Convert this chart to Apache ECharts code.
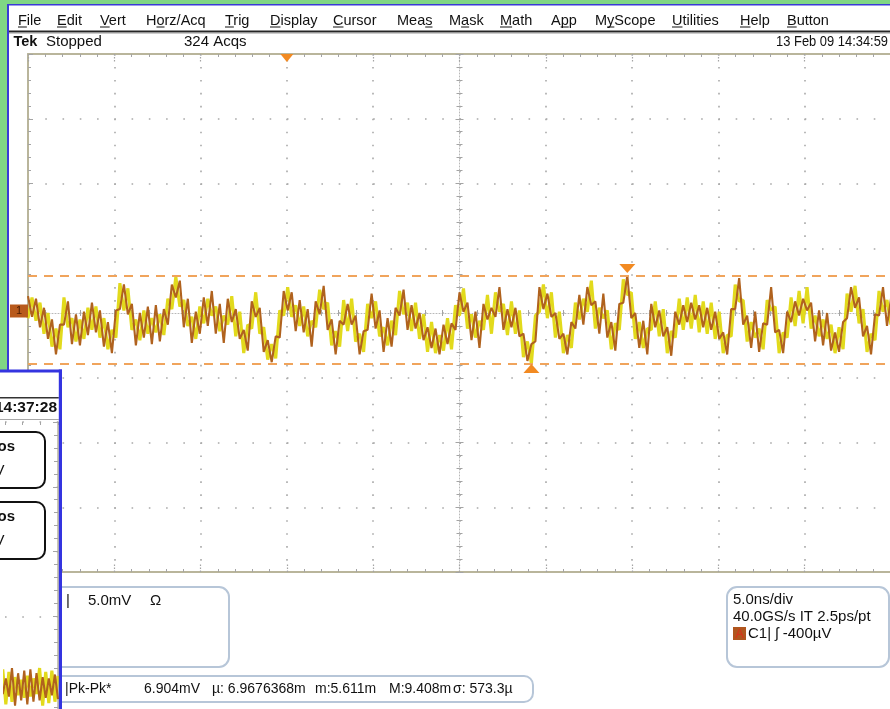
<!DOCTYPE html>
<html><head><meta charset="utf-8">
<script src="https://cdn.jsdelivr.net/npm/echarts@6/dist/echarts.min.js"></script>
<style>html,body{margin:0;padding:0;background:#fff;overflow:hidden}#c{width:890px;height:709px}</style>
</head><body><div id="c"></div><script>
// ---------- DATA (mV, 5 mV/div, 5 ns/div) ----------
const timeStart = -25, timeEnd = 25;        // ns, 10 divisions
const voltMin = -20, voltMax = 20;          // mV, 8 divisions
// upper / lower edge of the noisy trace band at each displayed sample
const bandHigh = [
1.3,1.2,1.1,0.8,0.4,0.0,-0.5,-1.2,-0.9,1.2,
0.9,-0.4,-0.1,-0.5,0.1,0.4,0.8,0.5,0.2,-0.4,
-0.7,-1.3,0.2,2.3,2.2,1.9,0.7,-0.5,0.0,0.2,
0.5,-0.4,0.6,-0.1,0.3,1.1,2.2,2.8,2.5,1.0,
1.1,-0.3,0.1,0.5,1.2,1.1,1.7,0.5,0.7,-0.2,
1.1,1.3,0.3,0.1,-1.3,-0.9,0.9,1.6,0.4,-1.1,
-2.1,-2.4,-1.8,0.2,1.7,2.0,1.6,0.6,1.0,0.5,
0.3,-0.6,0.9,1.8,2.1,0.8,-0.5,-1.4,-0.6,1.0,
0.7,1.1,-0.2,-1.6,-1.4,0.7,1.5,0.9,0.2,-1.1,
-0.4,-0.6,0.4,1.7,1.8,0.8,0.6,0.8,0.0,-0.1,
-1.1,-0.7,-1.2,-1.7,-0.9,-0.4,-0.8,0.6,1.6,1.9,
0.8,-0.1,0.1,-0.6,0.7,1.4,0.4,1.6,2.0,0.7,
0.3,0.9,0.4,0.2,-1.6,-2.2,-2.4,-0.2,2.0,2.2,
1.5,1.6,0.0,0.1,-1.6,-1.7,-0.7,0.8,1.4,1.1,
2.0,2.5,0.9,0.4,1.5,0.2,-0.7,-0.8,0.7,2.6,
2.9,1.6,0.0,-0.7,-0.6,-1.2,0.7,0.9,0.2,0.3,
-1.1,-1.4,0.1,1.1,0.6,1.2,0.8,1.4,0.6,0.9,
0.4,0.8,0.1,0.1,-1.5,-1.7,0.3,2.2,2.7,1.0,
-0.2,-0.7,0.1,-1.2,-0.8,1.0,2.0,0.5,-1.3,-1.5,
0.1,1.2,0.9,1.7,1.1,2.0,0.8,-0.2,0.2,-0.5,
0.0,-0.9,-1.5,-1.1,-0.7,1.5,2.0,2.1,1.2,0.3,
-1.0,-1.6,-0.1,1.7,2.0,1.0,1.1];
const bandLow = [
-0.4,-0.3,-0.6,-1.1,-1.6,-2.0,-2.6,-3.2,-2.8,-0.9,
-1.1,-2.4,-2.2,-2.5,-2.0,-1.7,-1.3,-1.5,-1.9,-2.6,
-2.8,-3.1,-1.9,0.3,0.2,-0.1,-1.3,-2.5,-2.1,-1.9,
-1.6,-2.4,-1.5,-2.2,-1.7,-0.9,0.3,1.2,0.5,-1.1,
-1.0,-2.3,-2.0,-1.6,-0.8,-1.0,-0.2,-1.6,-1.4,-2.3,
-0.9,-0.7,-1.8,-2.0,-3.1,-2.9,-1.2,-0.3,-1.6,-3.0,
-3.6,-3.8,-3.5,-1.9,-0.2,0.2,-0.3,-1.4,-1.0,-1.5,
-1.8,-2.6,-1.1,-0.1,0.3,-1.3,-2.5,-3.2,-2.6,-0.9,
-1.4,-0.9,-2.2,-3.2,-3.0,-1.3,-0.4,-1.2,-1.8,-3.0,
-2.5,-2.6,-1.7,-0.2,-0.1,-1.3,-1.4,-1.2,-2.0,-2.1,
-3.0,-2.7,-3.1,-3.2,-2.9,-2.4,-2.8,-1.3,-0.2,0.1,
-1.2,-2.1,-1.9,-2.7,-1.3,-0.5,-1.6,-0.3,0.1,-1.3,
-1.7,-1.1,-1.6,-1.8,-3.4,-3.7,-3.9,-2.2,0.1,0.3,
-0.4,-0.3,-1.9,-2.0,-3.1,-3.2,-2.7,-1.2,-0.5,-0.9,
0.1,0.6,-1.2,-1.6,-0.4,-1.9,-2.8,-2.9,-1.3,0.8,
1.4,-0.4,-2.0,-2.7,-2.7,-3.2,-1.3,-1.1,-1.8,-1.8,
-3.1,-3.3,-1.9,-0.9,-1.3,-0.7,-1.2,-0.5,-1.5,-1.1,
-1.6,-1.3,-2.0,-2.0,-3.1,-3.2,-1.8,0.3,0.9,-0.9,
-2.2,-2.7,-1.9,-3.0,-2.8,-0.9,0.2,-1.5,-3.1,-3.1,
-1.9,-0.7,-1.0,-0.2,-0.8,0.2,-1.2,-2.2,-1.8,-2.5,
-2.0,-2.9,-3.1,-3.0,-2.8,-0.4,0.1,0.4,-0.8,-1.8,
-3.0,-3.2,-2.1,-0.2,0.1,-1.0,-0.9];
const triggerTime = -10;  // ns (trigger position marker)
// second (background) window, tail of its trace
const overlayStart = 21.7, overlayEnd = 25;
const overlayHigh = [0.5,0.9,0.2,0.7,1.0,0.3,0.6,0.1,0.8,0.4,0.9,0.2,0.6,1.0,0.3,0.7,0.2,0.8,0.5,0.4];
const overlayLow  = [-1.4,-1.0,-1.8,-1.2,-1.6,-1.9,-1.1,-1.5,-1.3,-1.8,-1.2,-1.6,-1.0,-1.5,-1.9,-1.3,-1.7,-1.1,-1.6,-1.4];
// texts
const menuLabels = ['File','Edit','Vert','Horz/Acq','Trig','Display','Cursor','Meas','Mask','Math','App','MyScope','Utilities','Help','Button'];
const menuKeys   = [0,0,0,1,0,0,0,3,1,0,1,1,0,0,0];
const menuX      = [18,57,100,146,225,270,333,397,449,500,551,595,672,740,787];
const statusTexts = ['Stopped','324 Acqs'];
const dateText = '13 Feb 09 14:34:59';
const channelTexts = ['|','5.0mV','\u03A9'];
const measTexts = ['|Pk-Pk*','6.904mV','\u00B5: 6.9676368m','m:5.611m','M:9.408m','\u03C3: 573.3\u00B5'];
const horizTexts = ['5.0ns/div','40.0GS/s IT 2.5ps/pt','C1| \u0283 -400\u00B5V'];
const overlayTime = '09 14:37:28';

// ---------- build ----------
const sampleTimes = bandHigh.map((_, i) => timeStart + i * (timeEnd - timeStart) / (bandHigh.length - 1));
const overlayTimes = overlayHigh.map((_, i) => overlayStart + i * (overlayEnd - overlayStart) / (overlayHigh.length - 1));
const pair = (ts, vs) => vs.map((v, i) => [ts[i], v]);
// a trace that swings between the band edges from sample to sample (phase 0 or 1)
const swing = (ts, hi, lo, phase) => ts.map((t, i) => [t, (i + phase) % 2 === 0 ? hi[i] : lo[i]]);

const FONT = '"Liberation Sans", Arial, Helvetica, sans-serif';
const G = [];
function rect(x, y, w, h, fill, z, r) {
  G.push({type:'rect', silent:true, z: z, shape:{x:x, y:y, width:w, height:h, r:r||0}, style:{fill:fill}});
}
function rbox(x, y, w, h, r, stroke, lw, z, fill) {
  G.push({type:'rect', silent:true, z: z, shape:{x:x, y:y, width:w, height:h, r:r}, style:{fill:fill||'none', stroke:stroke, lineWidth:lw}});
}
function text(x, y, str, size, o) {
  o = o || {};
  const el = {type:'text', silent:true, z: o.z || 60, x:x, y:y,
    style:{text:str, fontSize:size, fontFamily:FONT, fontWeight:o.bold?'bold':'normal', fill:o.color||'#111',
      textAlign:o.align||'left', align:o.align||'left', textVerticalAlign:'middle', verticalAlign:'middle'}};
  if (o.scaleX) el.scaleX = o.scaleX;
  G.push(el);
}

// desktop + window frame
rect(0, 0, 890, 4, '#80d684', 40);
rect(0, 0, 7, 372, '#80d684', 40);
rect(7, 4, 883, 1.6, '#3a3ad6', 41);
rect(7, 4, 2, 368, '#3a3ad6', 41);
// menu
const mc = document.createElement('canvas').getContext('2d');
mc.font = '14.5px ' + FONT;
menuLabels.forEach((lab, i) => {
  text(menuX[i], 20.5, lab, 14.5);
  const k = menuKeys[i];
  const x0 = menuX[i] + mc.measureText(lab.slice(0, k)).width;
  const w = mc.measureText(lab[k]).width;
  rect(x0, 26.5, w, 1, '#111', 60);
});
rect(9, 30.5, 881, 2, '#262626', 45);
rect(9, 32.5, 881, 1, '#9a9a9a', 45);
// status line
text(13.5, 42, 'Tek', 14.5, {bold:true});
text(46, 42, statusTexts[0], 15);
text(184, 42, statusTexts[1], 15);
text(888, 42, dateText, 15, {align:'right', scaleX:0.86});
// channel level marker
rect(10, 304.5, 18, 13, '#b85a1c', 45);
text(19, 311, '1', 11, {align:'center', color:'#4a1c04'});
// bottom readouts
rbox(40, 587, 189, 80, 10, '#b7c6d8', 2, 50, '#fff');
rbox(40, 676, 493, 26, 9, '#b7c6d8', 2, 50, '#fff');
rbox(727, 587, 162, 80, 10, '#b7c6d8', 2, 50, '#fff');
text(66, 601, channelTexts[0], 15);
text(88, 601, channelTexts[1], 15);
text(150, 601, channelTexts[2], 15);
const measX = [65, 144, 212, 315, 389, 453];
measTexts.forEach((t, i) => text(measX[i], 689, t, 14));
text(733, 600, horizTexts[0], 15);
text(733, 617, horizTexts[1], 15);
rect(733, 627, 13, 13, '#b0561e', 55);
text(739.5, 634, 'A', 13, {align:'center', color:'#d8321a'});
text(748, 634, horizTexts[2], 15);
// overlapping second window (lower left)
rect(0, 371, 60, 338, '#ffffff', 100);
rect(0, 369.5, 62, 3, '#3434e0', 140);
rect(58.8, 369.5, 3.2, 340, '#3434e0', 140);
rect(0, 397, 58.8, 1.6, '#333', 105);
text(57, 408, overlayTime, 15.5, {bold:true, align:'right', z:130});
rect(0, 419, 58.8, 1, '#a8a8a8', 105);
rbox(-20, 432, 65, 56, 9, '#111', 2, 115, '#fff');
rbox(-20, 502, 65, 57, 9, '#111', 2, 115, '#fff');
text(15, 447, 'Pos', 15, {bold:true, align:'right', z:130});
text(4.5, 471, '5.0mV', 15, {align:'right', z:130});
text(15, 517, 'Pos', 15, {bold:true, align:'right', z:130});
text(4.5, 541, '5.0mV', 15, {align:'right', z:130});

// ---------- axes ----------
const olive = '#b9b59b', tickCol = '#a4a4a4', dotCol = '#a9a9a9';
const hide = {show:false};
function xAx(o) {
  return Object.assign({type:'value', min:timeStart, max:timeEnd, interval:5, gridIndex:0,
    axisLabel:hide, splitLine:hide, axisPointer:hide,
    axisLine:{show:false, onZero:false},
    axisTick:{show:true, inside:true, length:5, lineStyle:{color:tickCol, width:1}},
    minorTick:{show:true, splitNumber:5, length:3, lineStyle:{color:tickCol, width:1}}}, o);
}
function yAx(o) {
  return Object.assign({type:'value', min:voltMin, max:voltMax, interval:5, gridIndex:0,
    axisLabel:hide, splitLine:hide, axisPointer:hide,
    axisLine:{show:false, onZero:false},
    axisTick:{show:true, inside:true, length:5, lineStyle:{color:tickCol, width:1}},
    minorTick:{show:true, splitNumber:5, length:3, lineStyle:{color:tickCol, width:1}}}, o);
}
const xAxes = [
  xAx({position:'bottom',
       axisLine:{show:true, onZero:false, lineStyle:{color:olive, width:2}},
       axisTick:{show:true, inside:true, length:8, lineStyle:{color:tickCol, width:1.2, type:[1.5,1.5]}},
       splitLine:{show:true, lineStyle:{color:dotCol, width:1.6, type:[1.6, 11.35]}}}),
  xAx({position:'top',
       axisLine:{show:true, onZero:false, lineStyle:{color:olive, width:2}},
       axisTick:{show:true, inside:true, length:9, lineStyle:{color:tickCol, width:1.2, type:[1.5,1.5]}}}),
  xAx({position:'top', offset:-259,
       axisLine:{show:true, onZero:false, lineStyle:{color:'#b8b8b8', width:1, type:[1,2]}},
       axisTick:{show:true, inside:true, length:4, lineStyle:{color:tickCol}},
       minorTick:{show:true, splitNumber:5, length:3, lineStyle:{color:tickCol}}}),
  xAx({position:'bottom', offset:-259,
       axisTick:{show:true, inside:true, length:4, lineStyle:{color:tickCol}},
       minorTick:{show:true, splitNumber:5, length:3, lineStyle:{color:tickCol}}}),
  // second window
  {type:'value', gridIndex:1, min:22, max:25, interval:1, position:'top', z:110,
   axisLabel:hide, splitLine:hide, axisPointer:hide,
   axisLine:{show:false, onZero:false},
   axisTick:{show:true, inside:true, length:3, lineStyle:{color:tickCol}}}
];
const yAxes = [
  yAx({position:'left',
       axisLine:{show:true, onZero:false, lineStyle:{color:olive, width:2}},
       splitLine:{show:true, lineStyle:{color:dotCol, width:1.6, type:[1.6, 15.66]}}}),
  yAx({position:'left', offset:-431.5,
       axisLine:{show:true, onZero:false, lineStyle:{color:'#b8b8b8', width:1, type:[1,2]}},
       axisTick:{show:true, inside:true, length:4, lineStyle:{color:tickCol}},
       minorTick:{show:true, splitNumber:5, length:3, lineStyle:{color:tickCol}}}),
  yAx({position:'right', offset:-431.5,
       axisTick:{show:true, inside:true, length:4, lineStyle:{color:tickCol}},
       minorTick:{show:true, splitNumber:5, length:3, lineStyle:{color:tickCol}}}),
  // second window
  {type:'value', gridIndex:1, min:voltMin, max:voltMax, interval:5, position:'right', z:110,
   axisLabel:hide, axisPointer:hide,
   axisLine:{show:true, onZero:false, lineStyle:{color:olive, width:1.5}},
   axisTick:{show:true, inside:true, length:5, lineStyle:{color:tickCol}},
   minorTick:{show:true, splitNumber:5, length:4, lineStyle:{color:tickCol}},
   splitLine:{show:true, lineStyle:{color:dotCol, width:1.6, type:[1.6, 15.66]}}}
];

const brownCol = '#b0621e', yellowCol = '#e2da1c', orange = '#f28a22';
const cursorLine = {color:'#f0a45c', width:2, type:[9,7]};
const invisible = {opacity:0, width:0};

const option = {
  backgroundColor:'#ffffff',
  animation:false,
  grid:[
    {left:28, top:54, width:863, height:518, containLabel:false, outerBoundsMode:'none'},
    {left:5, top:422, width:53, height:518, containLabel:false, outerBoundsMode:'none'}
  ],
  xAxis:xAxes,
  yAxis:yAxes,
  series:[
    {type:'line', name:'persist', xAxisIndex:0, yAxisIndex:0, data:swing(sampleTimes, bandHigh, bandLow, 1),
     showSymbol:false, symbol:'none', z:3, lineStyle:{color:yellowCol, width:3.1}},
    {type:'line', name:'C1', xAxisIndex:0, yAxisIndex:0, data:swing(sampleTimes, bandHigh, bandLow, 0),
     showSymbol:false, symbol:'none', z:4, lineStyle:{color:brownCol, width:2.1}},
    // band edges: carry the max / min cursors and markers
    {type:'line', name:'high', xAxisIndex:0, yAxisIndex:0, data:pair(sampleTimes, bandHigh),
     showSymbol:false, symbol:'none', z:5, lineStyle:invisible, silent:true,
     markLine:{silent:true, symbol:['none','none'], label:{show:false}, lineStyle:cursorLine, data:[{type:'max'}]},
     markPoint:{silent:true, label:{show:false}, itemStyle:{color:orange},
       data:[
         {type:'max', symbol:'triangle', symbolRotate:180, symbolSize:[16,9], symbolOffset:[0,-7]},
         {coord:[triggerTime, voltMax], symbol:'triangle', symbolRotate:180, symbolSize:[13,8], symbolOffset:[0,4]}
       ]}},
    {type:'line', name:'low', xAxisIndex:0, yAxisIndex:0, data:pair(sampleTimes, bandLow),
     showSymbol:false, symbol:'none', z:5, lineStyle:invisible, silent:true,
     markLine:{silent:true, symbol:['none','none'], label:{show:false}, lineStyle:cursorLine, data:[{type:'min'}]},
     markPoint:{silent:true, label:{show:false}, itemStyle:{color:orange},
       data:[{type:'min', symbol:'triangle', symbolSize:[16,9], symbolOffset:[0,5]}]}},
    {type:'line', xAxisIndex:4, yAxisIndex:3, clip:false, z:120, data:swing(overlayTimes, overlayHigh, overlayLow, 1),
     showSymbol:false, symbol:'none', lineStyle:{color:yellowCol, width:3.1}},
    {type:'line', xAxisIndex:4, yAxisIndex:3, clip:false, z:121, data:swing(overlayTimes, overlayHigh, overlayLow, 0),
     showSymbol:false, symbol:'none', lineStyle:{color:brownCol, width:2.1}}
  ],
  graphic:{elements:G}
};
const chart = echarts.init(document.getElementById('c'), null, {renderer:'canvas', width:890, height:709});
chart.setOption(option);
</script></body></html>
